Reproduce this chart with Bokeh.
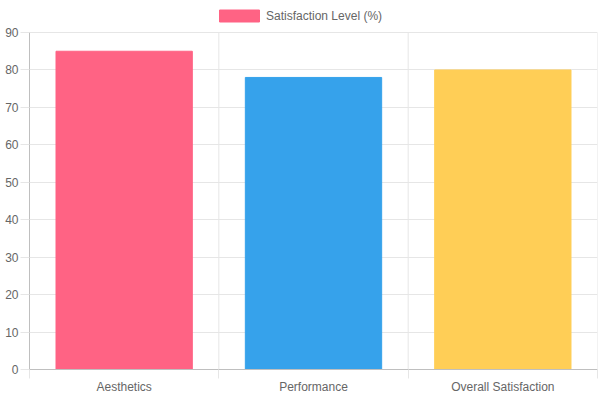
from bokeh.embed import file_html
from bokeh.models import ColumnDataSource, FixedTicker, Legend, Range1d
from bokeh.plotting import figure
from bokeh.resources import INLINE

categories = ["Aesthetics", "Performance", "Overall Satisfaction"]
satisfaction = [85, 78, 80]
colors = ["#FF6384", "#36A2EB", "#FFCE56"]
y_ticks = [0, 10, 20, 30, 40, 50, 60, 70, 80, 90]

centers = [i + 0.5 for i in range(len(categories))]
bounds = list(range(len(categories) + 1))
y_top = max(y_ticks)

source = ColumnDataSource(data=dict(x=centers, top=satisfaction, color=colors))

# the frame runs up to the page top so the legend can sit inside it,
# above the 90 line
p = figure(
    frame_width=568,
    frame_height=369,
    x_range=Range1d(0, len(categories)),
    y_range=Range1d(0, 98.55),
    output_backend="svg",
    toolbar_location=None,
    min_border_left=29,
    min_border_right=3,
    min_border_top=0,
    min_border_bottom=0,
    outline_line_color=None,
)

font = "Liberation Sans"
grid_color = "#e6e6e6"
axis_color = "#bfbfbf"

# vertical grid lines at the category edges, stopping at the top tick
p.segment(x0=bounds, y0=[0] * len(bounds), x1=bounds, y1=[y_top] * len(bounds),
          line_color=grid_color, line_width=1)

bars = p.vbar(x="x", top="top", width=0.72, bottom=0, source=source,
              fill_color="color", line_color="color")

# x axis: labels at the centres, small marks at the category edges
xax = p.xaxis[0]
xax.ticker = FixedTicker(ticks=centers, minor_ticks=bounds)
xax.major_label_overrides = {c: name for c, name in zip(centers, categories)}
xax.major_tick_out = 0
xax.major_tick_in = 0
xax.minor_tick_out = 9
xax.minor_tick_in = 0
xax.minor_tick_line_color = grid_color
xax.axis_line_color = axis_color
xax.major_label_standoff = 1
xax.major_label_text_font = font
xax.major_label_text_font_size = "12px"
xax.major_label_text_color = "#666666"

yax = p.yaxis[0]
yax.ticker = FixedTicker(ticks=y_ticks)
yax.bounds = (0, y_top)
yax.major_tick_out = 9
yax.major_tick_in = 0
yax.minor_tick_line_color = None
yax.major_tick_line_color = grid_color
yax.axis_line_color = axis_color
yax.major_label_standoff = 2
yax.major_label_text_font = font
yax.major_label_text_font_size = "12px"
yax.major_label_text_color = "#666666"

p.xgrid.visible = False
p.ygrid.ticker = FixedTicker(ticks=y_ticks)
p.ygrid.grid_line_color = grid_color

legend = Legend(
    items=[("Satisfaction Level (%)", [bars])],
    location=(185, 346),
    orientation="horizontal",
    glyph_width=50,
    glyph_height=15,
    label_standoff=2,
    label_text_font=font,
    label_text_font_size="12px",
    label_text_color="#666666",
    border_line_color=None,
    background_fill_alpha=0,
    padding=2,
    margin=0,
)
p.add_layout(legend, "center")

open("out.html", "w").write(file_html(p, INLINE))
